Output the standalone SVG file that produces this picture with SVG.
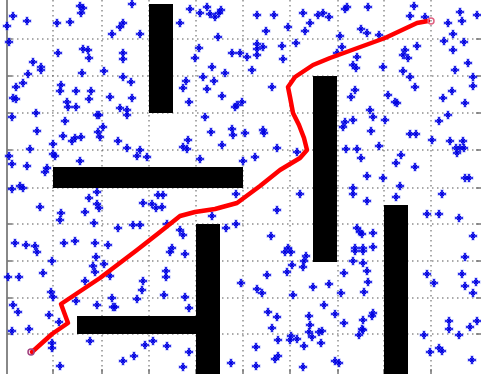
<svg xmlns="http://www.w3.org/2000/svg" xmlns:xlink="http://www.w3.org/1999/xlink" width="481" height="374" viewBox="0 0 481 374">
<style>
.grid{stroke:#555;stroke-width:1;stroke-dasharray:1.5 3.5;fill:none}
.obs{fill:#000}
.path{fill:none;stroke:#ff0000;stroke-width:4.5;stroke-linejoin:round;stroke-linecap:round}
.tick{stroke:#777;stroke-width:1.5}
</style>
<defs>
<g id="s">
<path d="M-4.5,0H4.5M0,-4.5V4.5" stroke="#3344ff" stroke-width="3.5" stroke-opacity="0.35"/>
<path d="M-4,0H4M0,-4V4" stroke="#0000e0" stroke-width="1.6"/>
<path d="M-2,-2L2,2M-2,2L2,-2" stroke="#0000e0" stroke-width="1"/>
</g>
</defs>
<rect width="481" height="374" fill="#fff"/>
<g id="grid">
<path class="grid" d="M53,0V374M102,0V374M149,0V374M196,0V374M243,0V374M290,0V374M338,0V374M384,0V374M431,0V374"/>
<path class="grid" d="M7,39H481M7,76H481M7,113H481M7,150H481M7,188H481M7,224H481M7,261H481M7,298H481M7,334H481"/>
</g>
<g id="axes">
<line x1="7" y1="0" x2="7" y2="374" stroke="#888" stroke-width="2"/>
<path class="tick" d="M7,39H12M7,76H12M7,113H12M7,150H12M7,188H12M7,224H12M7,261H12M7,298H12M7,334H12"/>
<path class="tick" d="M53,369V374M102,369V374M149,369V374M196,369V374M243,369V374M290,369V374M338,369V374M384,369V374M431,369V374"/>
<path class="tick" d="M476,39H481M476,76H481M476,113H481M476,150H481M476,188H481M476,224H481M476,261H481M476,298H481M476,334H481"/>
</g>
<g id="stars">
<use href="#s" x="13" y="16"/><use href="#s" x="27" y="21"/><use href="#s" x="7" y="26"/><use href="#s" x="80" y="6"/><use href="#s" x="83" y="8"/><use href="#s" x="81" y="13"/><use href="#s" x="57" y="23"/><use href="#s" x="70" y="22"/><use href="#s" x="132" y="4"/><use href="#s" x="123" y="23"/><use href="#s" x="120" y="27"/><use href="#s" x="112" y="34"/><use href="#s" x="140" y="34"/><use href="#s" x="9" y="42"/><use href="#s" x="58" y="53"/><use href="#s" x="83" y="49"/><use href="#s" x="88" y="50"/><use href="#s" x="89" y="58"/><use href="#s" x="123" y="53"/><use href="#s" x="123" y="59"/><use href="#s" x="33" y="62"/><use href="#s" x="41" y="67"/><use href="#s" x="41" y="70"/><use href="#s" x="28" y="74"/><use href="#s" x="82" y="73"/><use href="#s" x="104" y="71"/><use href="#s" x="123" y="77"/><use href="#s" x="131" y="82"/><use href="#s" x="23" y="83"/><use href="#s" x="16" y="87"/><use href="#s" x="61" y="85"/><use href="#s" x="60" y="91"/><use href="#s" x="76" y="91"/><use href="#s" x="91" y="91"/><use href="#s" x="13" y="98"/><use href="#s" x="16" y="99"/><use href="#s" x="89" y="99"/><use href="#s" x="110" y="97"/><use href="#s" x="132" y="98"/><use href="#s" x="67" y="102"/><use href="#s" x="68" y="107"/><use href="#s" x="76" y="107"/><use href="#s" x="120" y="108"/><use href="#s" x="127" y="110"/><use href="#s" x="127" y="115"/><use href="#s" x="36" y="113"/><use href="#s" x="97" y="115"/><use href="#s" x="99" y="115"/><use href="#s" x="12" y="117"/><use href="#s" x="65" y="121"/>
<use href="#s" x="190" y="9"/><use href="#s" x="207" y="7"/><use href="#s" x="200" y="13"/><use href="#s" x="210" y="14"/><use href="#s" x="215" y="17"/><use href="#s" x="221" y="10"/><use href="#s" x="219" y="13"/><use href="#s" x="180" y="23"/><use href="#s" x="257" y="15"/><use href="#s" x="274" y="15"/><use href="#s" x="303" y="13"/><use href="#s" x="318" y="15"/><use href="#s" x="310" y="23"/><use href="#s" x="266" y="31"/><use href="#s" x="288" y="27"/><use href="#s" x="305" y="31"/><use href="#s" x="218" y="37"/><use href="#s" x="296" y="43"/><use href="#s" x="199" y="48"/><use href="#s" x="257" y="44"/><use href="#s" x="263" y="47"/><use href="#s" x="257" y="49"/><use href="#s" x="282" y="46"/><use href="#s" x="195" y="58"/><use href="#s" x="232" y="53"/><use href="#s" x="240" y="53"/><use href="#s" x="247" y="57"/><use href="#s" x="257" y="55"/><use href="#s" x="283" y="59"/><use href="#s" x="212" y="67"/><use href="#s" x="225" y="73"/><use href="#s" x="252" y="70"/><use href="#s" x="203" y="77"/><use href="#s" x="186" y="81"/><use href="#s" x="214" y="81"/><use href="#s" x="183" y="88"/><use href="#s" x="207" y="89"/><use href="#s" x="222" y="96"/><use href="#s" x="272" y="87"/><use href="#s" x="189" y="102"/><use href="#s" x="242" y="102"/><use href="#s" x="237" y="105"/><use href="#s" x="235" y="107"/><use href="#s" x="205" y="117"/>
<use href="#s" x="323" y="13"/><use href="#s" x="329" y="17"/><use href="#s" x="347" y="7"/><use href="#s" x="345" y="9"/><use href="#s" x="368" y="7"/><use href="#s" x="414" y="6"/><use href="#s" x="410" y="16"/><use href="#s" x="425" y="17"/><use href="#s" x="448" y="23"/><use href="#s" x="460" y="12"/><use href="#s" x="462" y="21"/><use href="#s" x="477" y="15"/><use href="#s" x="361" y="29"/><use href="#s" x="367" y="33"/><use href="#s" x="379" y="35"/><use href="#s" x="453" y="34"/><use href="#s" x="340" y="36"/><use href="#s" x="342" y="47"/><use href="#s" x="337" y="53"/><use href="#s" x="444" y="41"/><use href="#s" x="464" y="42"/><use href="#s" x="417" y="46"/><use href="#s" x="405" y="50"/><use href="#s" x="403" y="55"/><use href="#s" x="408" y="58"/><use href="#s" x="453" y="50"/><use href="#s" x="357" y="57"/><use href="#s" x="353" y="65"/><use href="#s" x="356" y="68"/><use href="#s" x="383" y="67"/><use href="#s" x="403" y="71"/><use href="#s" x="468" y="63"/><use href="#s" x="455" y="70"/><use href="#s" x="410" y="77"/><use href="#s" x="473" y="77"/><use href="#s" x="473" y="86"/><use href="#s" x="415" y="87"/><use href="#s" x="355" y="90"/><use href="#s" x="351" y="97"/><use href="#s" x="388" y="95"/><use href="#s" x="395" y="102"/><use href="#s" x="397" y="103"/><use href="#s" x="452" y="91"/><use href="#s" x="443" y="98"/><use href="#s" x="465" y="103"/><use href="#s" x="370" y="110"/><use href="#s" x="373" y="117"/><use href="#s" x="385" y="120"/><use href="#s" x="353" y="120"/><use href="#s" x="345" y="122"/><use href="#s" x="439" y="121"/><use href="#s" x="448" y="115"/>
<use href="#s" x="37" y="131"/><use href="#s" x="63" y="136"/><use href="#s" x="72" y="141"/><use href="#s" x="75" y="138"/><use href="#s" x="81" y="137"/><use href="#s" x="98" y="132"/><use href="#s" x="100" y="137"/><use href="#s" x="103" y="127"/><use href="#s" x="118" y="141"/><use href="#s" x="127" y="148"/><use href="#s" x="140" y="150"/><use href="#s" x="137" y="156"/><use href="#s" x="147" y="157"/><use href="#s" x="53" y="144"/><use href="#s" x="30" y="149"/><use href="#s" x="9" y="156"/><use href="#s" x="12" y="164"/><use href="#s" x="53" y="154"/><use href="#s" x="55" y="156"/><use href="#s" x="80" y="161"/><use href="#s" x="27" y="166"/><use href="#s" x="45" y="172"/><use href="#s" x="47" y="168"/><use href="#s" x="12" y="189"/><use href="#s" x="20" y="186"/><use href="#s" x="23" y="188"/><use href="#s" x="97" y="192"/><use href="#s" x="89" y="198"/><use href="#s" x="97" y="204"/><use href="#s" x="99" y="208"/><use href="#s" x="40" y="207"/><use href="#s" x="61" y="213"/><use href="#s" x="60" y="220"/><use href="#s" x="85" y="212"/><use href="#s" x="94" y="223"/><use href="#s" x="118" y="228"/><use href="#s" x="133" y="225"/><use href="#s" x="140" y="225"/><use href="#s" x="158" y="195"/><use href="#s" x="143" y="203"/><use href="#s" x="152" y="204"/><use href="#s" x="156" y="208"/><use href="#s" x="15" y="243"/><use href="#s" x="26" y="245"/><use href="#s" x="35" y="246"/><use href="#s" x="64" y="243"/><use href="#s" x="75" y="241"/><use href="#s" x="95" y="243"/><use href="#s" x="108" y="245"/>
<use href="#s" x="211" y="132"/><use href="#s" x="232" y="129"/><use href="#s" x="233" y="135"/><use href="#s" x="245" y="133"/><use href="#s" x="263" y="130"/><use href="#s" x="264" y="133"/><use href="#s" x="188" y="140"/><use href="#s" x="183" y="147"/><use href="#s" x="187" y="149"/><use href="#s" x="222" y="145"/><use href="#s" x="277" y="148"/><use href="#s" x="297" y="152"/><use href="#s" x="200" y="159"/><use href="#s" x="243" y="161"/><use href="#s" x="255" y="157"/><use href="#s" x="163" y="195"/><use href="#s" x="162" y="207"/><use href="#s" x="236" y="194"/><use href="#s" x="300" y="194"/><use href="#s" x="277" y="210"/><use href="#s" x="212" y="216"/><use href="#s" x="167" y="224"/><use href="#s" x="180" y="230"/><use href="#s" x="183" y="235"/><use href="#s" x="226" y="228"/><use href="#s" x="236" y="224"/><use href="#s" x="271" y="236"/><use href="#s" x="172" y="248"/><use href="#s" x="288" y="248"/>
<use href="#s" x="343" y="127"/><use href="#s" x="371" y="131"/><use href="#s" x="410" y="134"/><use href="#s" x="416" y="134"/><use href="#s" x="432" y="140"/><use href="#s" x="450" y="141"/><use href="#s" x="463" y="141"/><use href="#s" x="456" y="148"/><use href="#s" x="460" y="148"/><use href="#s" x="464" y="148"/><use href="#s" x="457" y="153"/><use href="#s" x="346" y="149"/><use href="#s" x="357" y="149"/><use href="#s" x="379" y="146"/><use href="#s" x="361" y="158"/><use href="#s" x="401" y="155"/><use href="#s" x="396" y="163"/><use href="#s" x="415" y="167"/><use href="#s" x="367" y="176"/><use href="#s" x="383" y="178"/><use href="#s" x="465" y="178"/><use href="#s" x="469" y="178"/><use href="#s" x="353" y="188"/><use href="#s" x="353" y="194"/><use href="#s" x="400" y="186"/><use href="#s" x="396" y="197"/><use href="#s" x="442" y="194"/><use href="#s" x="367" y="201"/><use href="#s" x="427" y="214"/><use href="#s" x="439" y="214"/><use href="#s" x="459" y="218"/><use href="#s" x="357" y="228"/><use href="#s" x="360" y="232"/><use href="#s" x="362" y="234"/><use href="#s" x="373" y="233"/><use href="#s" x="473" y="236"/><use href="#s" x="355" y="248"/><use href="#s" x="363" y="248"/><use href="#s" x="373" y="247"/>
<use href="#s" x="37" y="252"/><use href="#s" x="52" y="261"/><use href="#s" x="96" y="257"/><use href="#s" x="93" y="266"/><use href="#s" x="104" y="264"/><use href="#s" x="95" y="272"/><use href="#s" x="43" y="273"/><use href="#s" x="8" y="277"/><use href="#s" x="19" y="277"/><use href="#s" x="110" y="276"/><use href="#s" x="85" y="281"/><use href="#s" x="143" y="281"/><use href="#s" x="142" y="290"/><use href="#s" x="51" y="292"/><use href="#s" x="53" y="297"/><use href="#s" x="76" y="301"/><use href="#s" x="97" y="305"/><use href="#s" x="112" y="298"/><use href="#s" x="113" y="307"/><use href="#s" x="115" y="307"/><use href="#s" x="137" y="299"/><use href="#s" x="13" y="305"/><use href="#s" x="18" y="312"/><use href="#s" x="49" y="315"/><use href="#s" x="59" y="322"/><use href="#s" x="12" y="331"/><use href="#s" x="29" y="329"/><use href="#s" x="90" y="341"/><use href="#s" x="52" y="343"/><use href="#s" x="52" y="348"/><use href="#s" x="145" y="345"/><use href="#s" x="153" y="341"/><use href="#s" x="134" y="356"/><use href="#s" x="123" y="361"/><use href="#s" x="60" y="366"/>
<use href="#s" x="170" y="252"/><use href="#s" x="185" y="254"/><use href="#s" x="166" y="271"/><use href="#s" x="166" y="277"/><use href="#s" x="164" y="295"/><use href="#s" x="185" y="297"/><use href="#s" x="189" y="308"/><use href="#s" x="167" y="346"/><use href="#s" x="189" y="352"/><use href="#s" x="183" y="367"/><use href="#s" x="285" y="252"/><use href="#s" x="291" y="252"/><use href="#s" x="306" y="256"/><use href="#s" x="304" y="261"/><use href="#s" x="292" y="265"/><use href="#s" x="287" y="272"/><use href="#s" x="303" y="267"/><use href="#s" x="267" y="275"/><use href="#s" x="241" y="283"/><use href="#s" x="257" y="289"/><use href="#s" x="262" y="293"/><use href="#s" x="293" y="295"/><use href="#s" x="313" y="287"/><use href="#s" x="268" y="312"/><use href="#s" x="277" y="317"/><use href="#s" x="272" y="328"/><use href="#s" x="309" y="316"/><use href="#s" x="310" y="325"/><use href="#s" x="309" y="332"/><use href="#s" x="319" y="332"/><use href="#s" x="312" y="337"/><use href="#s" x="291" y="336"/><use href="#s" x="290" y="340"/><use href="#s" x="278" y="340"/><use href="#s" x="297" y="339"/><use href="#s" x="304" y="346"/><use href="#s" x="256" y="347"/><use href="#s" x="278" y="356"/><use href="#s" x="275" y="359"/><use href="#s" x="231" y="363"/><use href="#s" x="256" y="366"/><use href="#s" x="303" y="367"/>
<use href="#s" x="355" y="251"/><use href="#s" x="363" y="251"/><use href="#s" x="353" y="261"/><use href="#s" x="363" y="263"/><use href="#s" x="367" y="271"/><use href="#s" x="344" y="273"/><use href="#s" x="368" y="282"/><use href="#s" x="329" y="284"/><use href="#s" x="341" y="293"/><use href="#s" x="364" y="292"/><use href="#s" x="324" y="305"/><use href="#s" x="335" y="314"/><use href="#s" x="373" y="313"/><use href="#s" x="372" y="316"/><use href="#s" x="344" y="323"/><use href="#s" x="363" y="320"/><use href="#s" x="322" y="331"/><use href="#s" x="362" y="329"/><use href="#s" x="359" y="335"/><use href="#s" x="363" y="330"/><use href="#s" x="321" y="343"/><use href="#s" x="335" y="361"/><use href="#s" x="339" y="363"/><use href="#s" x="465" y="257"/><use href="#s" x="427" y="274"/><use href="#s" x="434" y="283"/><use href="#s" x="462" y="274"/><use href="#s" x="465" y="286"/><use href="#s" x="473" y="293"/><use href="#s" x="476" y="282"/><use href="#s" x="449" y="321"/><use href="#s" x="449" y="329"/><use href="#s" x="477" y="321"/><use href="#s" x="470" y="327"/><use href="#s" x="424" y="335"/><use href="#s" x="459" y="335"/><use href="#s" x="430" y="352"/><use href="#s" x="439" y="348"/><use href="#s" x="442" y="351"/><use href="#s" x="472" y="360"/>
</g>
<g id="obstacles">
<rect class="obs" x="149" y="4" width="24" height="109"/>
<rect class="obs" x="53" y="167" width="190" height="21"/>
<rect class="obs" x="313" y="76" width="24" height="186"/>
<rect class="obs" x="196" y="224" width="24" height="150"/>
<rect class="obs" x="77" y="316" width="119" height="18"/>
<rect class="obs" x="384" y="205" width="24" height="169"/>
</g>
<g id="route">
<polyline class="path" points="32,352 52,334 68,323 61,304 100,278 137,250 160,232 180,216 195,212 215,209 237,203 260,186 280,170 300,158 307,150 304,138 299,125 293,113 290,97 288,87 295,77 313,65 330,58 385,38 417,23 428,21"/>
<circle cx="31" cy="352" r="3" fill="none" stroke="#a04080" stroke-width="1.5"/>
<circle cx="431" cy="21" r="3" fill="none" stroke="#e06080" stroke-width="1.5"/>
</g>
</svg>
